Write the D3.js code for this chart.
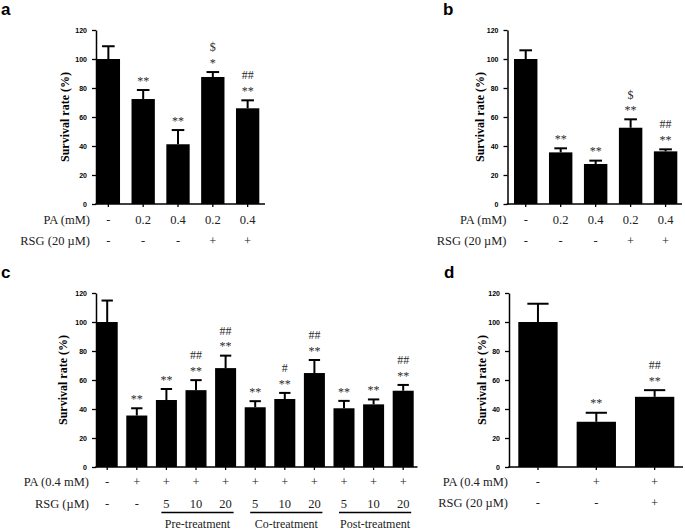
<!DOCTYPE html>
<html><head><meta charset="utf-8">
<script src="https://cdn.jsdelivr.net/npm/d3@7"></script>
<style>body{margin:0;background:#fff}svg{display:block}</style>
</head><body>
<script>
// ---------- data ----------
const yTicks = [0, 20, 40, 60, 80, 100, 120];
const yTitle = "Survival rate (%)";

const aPA = ["-", "0.2", "0.4", "0.2", "0.4"];
const aRSG = ["-", "-", "-", "+", "+"];
const aMeans = [100, 72.4, 41.2, 87.6, 66.0];
const aErrs = [8.8, 6.2, 9.8, 3.4, 5.5];
const aMarks = [[], ["**"], ["**"], ["*", "$"], ["**", "##"]];

const bPA = ["-", "0.2", "0.4", "0.2", "0.4"];
const bRSG = ["-", "-", "-", "+", "+"];
const bMeans = [100, 35.6, 27.6, 52.6, 36.3];
const bErrs = [6.0, 2.8, 2.3, 5.8, 1.4];
const bMarks = [[], ["**"], ["**"], ["**", "$"], ["**", "##"]];

const cPA = ["-", "+", "+", "+", "+", "+", "+", "+", "+", "+", "+"];
const cRSG = ["-", "-", "5", "10", "20", "5", "10", "20", "5", "10", "20"];
const cMeans = [100, 35.5, 46.2, 53.0, 68.2, 41.2, 46.9, 64.8, 40.5, 43.2, 52.6];
const cErrs = [14.8, 5.0, 7.6, 6.9, 8.6, 4.2, 4.2, 9.0, 5.1, 3.4, 4.0];
const cMarks = [[], ["**"], ["**"], ["**", "##"], ["**", "##"], ["**"], ["**", "#"], ["**", "##"], ["**"], ["**"], ["**", "##"]];
const cGroups = ["Pre-treatment", "Co-treatment", "Post-treatment"];
const cGroupRange = [[2, 4], [5, 7], [8, 10]];

const dPA = ["-", "+", "+"];
const dRSG = ["-", "-", "+"];
const dMeans = [100, 31.2, 48.4];
const dErrs = [12.6, 6.2, 4.6];
const dMarks = [[], ["**"], ["**", "##"]];

// ---------- drawing ----------
const W = 685, H = 530;
const svg = d3.select("body").append("svg").attr("width", W).attr("height", H);

const serif = "'Liberation Serif','Times New Roman',serif";
const sans = "'Liberation Sans',Arial,sans-serif";

function drawPanel(cfg) {
  const g = svg.append("g");
  const n = cfg.means.length;
  const idx = d3.range(n);
  const x = d3.scaleBand().domain(idx).range([cfg.bx0, cfg.bx1]).paddingInner(cfg.pad).paddingOuter(0);
  const y = d3.scaleLinear().domain([0, 120]).range([cfg.y0, cfg.y120]);
  const bw = x.bandwidth();

  g.append("text").attr("x", cfg.letterX).attr("y", cfg.letterY)
    .attr("font-family", sans).attr("font-weight", "bold").attr("font-size", 17)
    .text(cfg.letter);

  g.selectAll("rect.bar").data(idx).join("rect")
    .attr("x", i => x(i)).attr("width", bw)
    .attr("y", i => y(cfg.means[i])).attr("height", i => y(0) - y(cfg.means[i]))
    .attr("fill", "#000");

  const capW = bw * 0.54;
  const eb = g.selectAll("g.eb").data(idx).join("g");
  eb.append("line")
    .attr("x1", i => x(i) + bw / 2).attr("x2", i => x(i) + bw / 2)
    .attr("y1", i => y(cfg.means[i])).attr("y2", i => y(cfg.means[i] + cfg.errs[i]))
    .attr("stroke", "#000").attr("stroke-width", 2);
  eb.append("line")
    .attr("x1", i => x(i) + bw / 2 - capW / 2).attr("x2", i => x(i) + bw / 2 + capW / 2)
    .attr("y1", i => y(cfg.means[i] + cfg.errs[i])).attr("y2", i => y(cfg.means[i] + cfg.errs[i]))
    .attr("stroke", "#000").attr("stroke-width", 2);

  const baseOff = { "*": 6.2, "**": 6.2, "$": 4.2, "#": 4.0, "##": 4.0 };
  idx.forEach(i => {
    const top = y(cfg.means[i] + cfg.errs[i]);
    cfg.marks[i].forEach((m, k) => {
      const cy = top - 11.5 - k * 13.5;
      g.append("text").attr("x", x(i) + bw / 2).attr("y", cy + baseOff[m])
        .attr("text-anchor", "middle").attr("font-family", serif).attr("font-size", 12)
        .attr("fill", "#2a2a2a").text(m);
    });
  });

  const ya = g.append("g").attr("transform", `translate(${cfg.ax},0)`)
    .call(d3.axisLeft(y).tickValues(yTicks).tickSize(4).tickSizeOuter(0).tickPadding(5));
  ya.select(".domain").attr("stroke-width", 1.5);
  ya.selectAll(".tick line").attr("stroke-width", 1.3);
  ya.selectAll(".tick text").attr("font-family", sans).attr("font-weight", "bold").attr("font-size", 7).attr("fill", "#000");

  const xa = g.append("g").attr("transform", `translate(0,${cfg.y0})`)
    .call(d3.axisBottom(x).tickSize(3).tickSizeOuter(0).tickFormat(""));
  xa.select(".domain").remove();
  xa.selectAll(".tick line").attr("stroke-width", 1.3);
  g.append("line").attr("x1", cfg.ax - 0.75).attr("x2", cfg.axEnd).attr("y1", cfg.y0).attr("y2", cfg.y0)
    .attr("stroke", "#000").attr("stroke-width", 1.5);

  g.append("text").attr("transform", `translate(${cfg.titleX},${(cfg.y0 + cfg.y120) / 2}) rotate(-90)`)
    .attr("text-anchor", "middle").attr("dominant-baseline", "central")
    .attr("font-family", serif).attr("font-weight", "bold").attr("font-size", 12)
    .text(yTitle);

  cfg.rows.forEach(r => {
    g.append("text").attr("x", cfg.rowLabelX).attr("y", r.y).attr("text-anchor", "end")
      .attr("font-family", serif).attr("font-size", 12.5).attr("fill", "#222").text(r.label);
    g.selectAll(null).data(idx).join("text")
      .attr("x", i => x(i) + bw / 2).attr("y", r.y).attr("text-anchor", "middle")
      .attr("font-family", serif).attr("font-size", 12.5).attr("fill", "#222")
      .text(i => r.values[i]);
  });

  if (cfg.groups) {
    cfg.groups.forEach((name, gi) => {
      const [i0, i1] = cfg.groupRange[gi];
      const xs = x(i0) + bw / 2 - 5, xe = x(i1) + bw / 2 + 8;
      g.append("line").attr("x1", xs).attr("x2", xe).attr("y1", cfg.groupLineY).attr("y2", cfg.groupLineY)
        .attr("stroke", "#000").attr("stroke-width", 1.5);
      g.append("text").attr("x", (xs + xe) / 2).attr("y", cfg.groupTextY).attr("text-anchor", "middle")
        .attr("font-family", serif).attr("font-size", 12).attr("fill", "#222").text(name);
    });
  }
}

drawPanel({
  letter: "a", letterX: 1, letterY: 15,
  means: aMeans, errs: aErrs, marks: aMarks,
  ax: 96, axEnd: 265, bx0: 96.7, bx1: 259.3, pad: 0.33, y0: 204, y120: 30, titleX: 65,
  rowLabelX: 90, rows: [{ label: "PA (mM)", values: aPA, y: 223.5 }, { label: "RSG (20 µM)", values: aRSG, y: 244.5 }]
});
drawPanel({
  letter: "b", letterX: 443, letterY: 15,
  means: bMeans, errs: bErrs, marks: bMarks,
  ax: 507.5, axEnd: 682, bx0: 514, bx1: 677.3, pad: 0.33, y0: 204, y120: 30, titleX: 480,
  rowLabelX: 506.5, rows: [{ label: "PA (mM)", values: bPA, y: 223.5 }, { label: "RSG (20 µM)", values: bRSG, y: 244.5 }]
});
drawPanel({
  letter: "c", letterX: 1, letterY: 278,
  means: cMeans, errs: cErrs, marks: cMarks,
  ax: 96, axEnd: 417.5, bx0: 96.7, bx1: 413.7, pad: 0.29, y0: 467, y120: 293, titleX: 63,
  rowLabelX: 89, rows: [{ label: "PA (0.4 mM)", values: cPA, y: 485.5 }, { label: "RSG (µM)", values: cRSG, y: 507.5 }],
  groups: cGroups, groupRange: cGroupRange, groupLineY: 512.5, groupTextY: 527.5
});
drawPanel({
  letter: "d", letterX: 444, letterY: 278,
  means: dMeans, errs: dErrs, marks: dMarks,
  ax: 509, axEnd: 683, bx0: 518.3, bx1: 674.3, pad: 0.326, y0: 467, y120: 293, titleX: 482,
  rowLabelX: 508, rows: [{ label: "PA (0.4 mM)", values: dPA, y: 485.5 }, { label: "RSG (20 µM)", values: dRSG, y: 506.5 }]
});
</script>
</body></html>
